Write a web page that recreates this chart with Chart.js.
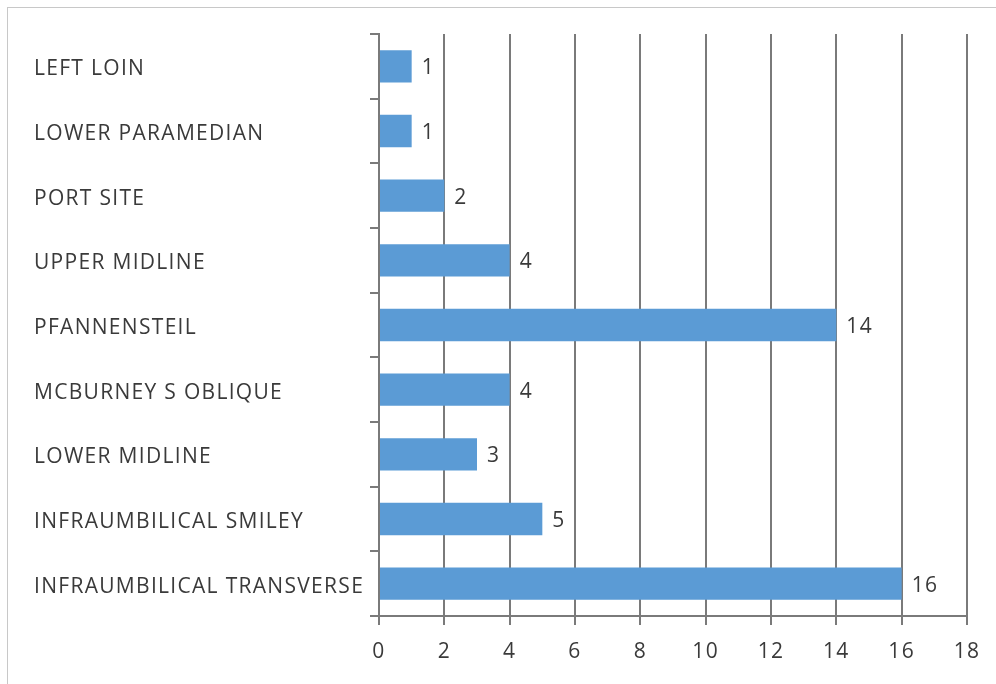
<!DOCTYPE html>
<html>
<head>
<meta charset="utf-8">
<script src="https://cdn.jsdelivr.net/npm/chart.js@4/dist/chart.umd.min.js"></script>
<style>
  html, body { margin: 0; padding: 0; background: #fff; }
  #wrap { position: relative; width: 996px; height: 684px; }
  #frame {
    position: absolute; left: 7px; top: 7px; width: 994px; height: 680px;
    border: 1px solid #c8c8c8; box-sizing: border-box; pointer-events: none;
  }
</style>
</head>
<body>
<div id="wrap">
  <canvas id="incisionChart" width="996" height="684"></canvas>
  <div id="frame"></div>
</div>
<script>
// === Incision types and counts ===
const INCISIONS = [
  "LEFT LOIN",
  "LOWER PARAMEDIAN",
  "PORT SITE",
  "UPPER MIDLINE",
  "PFANNENSTEIL",
  "MCBURNEY S OBLIQUE",
  "LOWER MIDLINE",
  "INFRAUMBILICAL SMILEY",
  "INFRAUMBILICAL TRANSVERSE"
];

const COUNTS = [1, 1, 2, 4, 14, 4, 3, 5, 16];

const X_TICKS = [0, 2, 4, 6, 8, 10, 12, 14, 16, 18];

const FONT = "'Open Sans', sans-serif";
const FONT_SIZE = 21;
const TEXT_COLOR = "#3a3a3a";
const LINE_COLOR = "#7a7a7a";

// a bit of tracking so the labels run as wide as the original typeface
const textSpacing = {
  id: "textSpacing",
  beforeDraw(chart) {
    chart.ctx.letterSpacing = "1.3px";
  }
};

// value labels at the end of each bar
const barValueLabels = {
  id: "barValueLabels",
  afterDatasetsDraw(chart) {
    const ctx = chart.ctx;
    const meta = chart.getDatasetMeta(0);
    ctx.save();
    ctx.font = FONT_SIZE + "px " + FONT;
    ctx.fillStyle = TEXT_COLOR;
    ctx.textAlign = "left";
    ctx.textBaseline = "middle";
    meta.data.forEach((bar, i) => {
      ctx.fillText(String(COUNTS[i]), bar.x + 10, bar.y + 2);
    });
    ctx.restore();
  }
};

const ctx = document.getElementById("incisionChart").getContext("2d");

new Chart(ctx, {
  type: "bar",
  data: {
    labels: INCISIONS,
    datasets: [{
      data: COUNTS,
      backgroundColor: "#5B9BD5",
      borderWidth: 0,
      barPercentage: 0.5,
      categoryPercentage: 1
    }]
  },
  options: {
    indexAxis: "y",
    responsive: false,
    animation: false,
    layout: { padding: { left: 34, top: 34, right: 29, bottom: 0 } },
    plugins: {
      legend: { display: false },
      tooltip: { enabled: false }
    },
    scales: {
      x: {
        min: 0,
        max: 18,
        afterBuildTicks: (scale) => {
          scale.ticks = X_TICKS.map((v) => ({ value: v }));
        },
        afterFit: (scale) => { scale.height = 68; },
        border: { display: true, color: LINE_COLOR, width: 2 },
        grid: {
          display: true,
          color: LINE_COLOR,
          lineWidth: 2,
          drawTicks: true,
          tickLength: 9
        },
        ticks: {
          color: TEXT_COLOR,
          font: { family: FONT, size: FONT_SIZE },
          padding: 14,
          maxRotation: 0
        }
      },
      y: {
        afterFit: (scale) => { scale.width = 345; },
        border: { display: true, color: LINE_COLOR, width: 2 },
        grid: {
          display: true,
          offset: true,
          drawOnChartArea: false,
          drawTicks: true,
          tickLength: 9,
          color: LINE_COLOR,
          lineWidth: 2
        },
        ticks: {
          color: TEXT_COLOR,
          font: { family: FONT, size: FONT_SIZE },
          crossAlign: "far",
          labelOffset: 3,
          padding: 0
        }
      }
    }
  },
  plugins: [textSpacing, barValueLabels]
});
</script>
</body>
</html>
